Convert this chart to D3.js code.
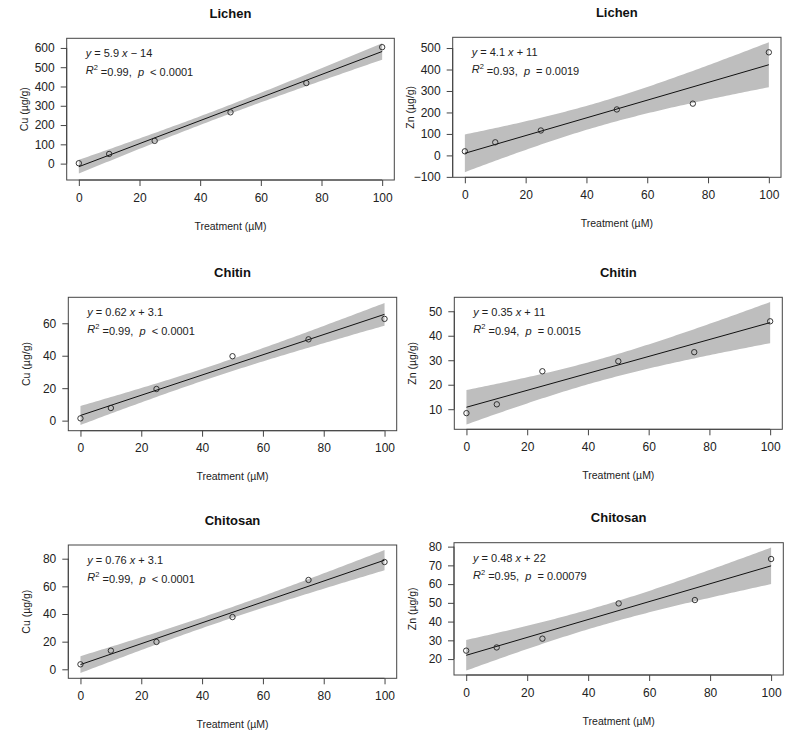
<!DOCTYPE html>
<html>
<head>
<meta charset="utf-8">
<script src="https://cdn.jsdelivr.net/npm/d3@7"></script>
<style>
  html, body { margin: 0; padding: 0; background: #fff; }
  svg { display: block; font-family: "Liberation Sans", Arial, sans-serif; }
  .ann { white-space: pre; }
</style>
</head>
<body>
<svg id="chart" width="798" height="737"></svg>
<script>
// ---- data ----
const treatment = [0, 10, 25, 50, 75, 100];
const lichenCu   = [2, 50, 118, 266, 418, 604];
const lichenZn   = [19, 61, 116, 214, 241, 480];
const chitinCu   = [1.4, 7.8, 19.5, 39.7, 50.1, 62.7];
const chitinZn   = [8.4, 12.0, 25.5, 29.6, 33.3, 45.9];
const chitosanCu = [3.6, 13.5, 19.8, 37.8, 64.6, 77.6];
const chitosanZn = [24.5, 26.2, 30.9, 49.7, 51.5, 73.4];

const titles  = ["Lichen", "Lichen", "Chitin", "Chitin", "Chitosan", "Chitosan"];
const yLabels = ["Cu (µg/g)", "Zn (µg/g)", "Cu (µg/g)", "Zn (µg/g)", "Cu (µg/g)", "Zn (µg/g)"];
const series  = [lichenCu, lichenZn, chitinCu, chitinZn, chitosanCu, chitosanZn];

const slopes     = ["5.9", "4.1", "0.62", "0.35", "0.76", "0.48"];
const intercepts = ["− 14", "+ 11", "+ 3.1", "+ 11", "+ 3.1", "+ 22"];
const r2Text     = ["0.99", "0.93", "0.99", "0.94", "0.99", "0.95"];
const pText      = ["< 0.0001", "= 0.0019", "< 0.0001", "= 0.0015", "< 0.0001", "= 0.00079"];

const xTicks = [0, 20, 40, 60, 80, 100];
const yTicks = [
  [0, 100, 200, 300, 400, 500, 600],
  [-100, 0, 100, 200, 300, 400, 500],
  [0, 20, 40, 60],
  [10, 20, 30, 40, 50],
  [0, 20, 40, 60, 80],
  [20, 30, 40, 50, 60, 70, 80]
];
const yDomains = [[-85, 650], [-102, 550], [-6.2, 76], [1.8, 55.7], [-6.5, 89.9], [11.5, 82.1]];
const xDomain = [-4, 104];

// ---- layout (plot boxes) ----
const boxes = [
  {l: 66.7, r: 394.3, t: 38.3, b: 180},
  {l: 452.7, r: 781, t: 37.3, b: 177.3},
  {l: 68.3, r: 396.7, t: 297.3, b: 430.7},
  {l: 454.3, r: 782.3, t: 297.3, b: 429.3},
  {l: 68.3, r: 396.7, t: 545, b: 678.3},
  {l: 454, r: 783.3, t: 542.7, b: 675}
];

const svg = d3.select("#chart");
const TQ = 2.776445; // t(0.975, df=4)
const txtCol = "#222";

function fit(xs, ys) {
  const n = xs.length;
  const mx = d3.mean(xs), my = d3.mean(ys);
  let sxx = 0, sxy = 0;
  xs.forEach((x, i) => { sxx += (x - mx) ** 2; sxy += (x - mx) * (ys[i] - my); });
  const b = sxy / sxx, a = my - b * mx;
  let sse = 0;
  xs.forEach((x, i) => { sse += (ys[i] - a - b * x) ** 2; });
  const s = Math.sqrt(sse / (n - 2));
  return {a, b, s, n, mx, sxx};
}

series.forEach((ys, k) => {
  const bx = boxes[k];
  const x = d3.scaleLinear().domain(xDomain).range([bx.l, bx.r]);
  const y = d3.scaleLinear().domain(yDomains[k]).range([bx.b, bx.t]);
  const g = svg.append("g");
  const f = fit(treatment, ys);

  // confidence band
  const grid = d3.range(0, 100.001, 1);
  const band = grid.map(xv => {
    const yh = f.a + f.b * xv;
    const se = f.s * Math.sqrt(1 / f.n + (xv - f.mx) ** 2 / f.sxx);
    return {x: xv, lo: yh - TQ * se, hi: yh + TQ * se};
  });
  g.append("path").datum(band)
    .attr("fill", "#bebebe")
    .attr("d", d3.area().x(d => x(d.x)).y0(d => y(d.lo)).y1(d => y(d.hi)));

  // regression line
  g.append("line")
    .attr("x1", x(0)).attr("y1", y(f.a))
    .attr("x2", x(100)).attr("y2", y(f.a + f.b * 100))
    .attr("stroke", "#111").attr("stroke-width", 1);

  // points
  g.selectAll("circle.pt").data(treatment).join("circle")
    .attr("class", "pt")
    .attr("cx", d => x(d)).attr("cy", (d, i) => y(ys[i]))
    .attr("r", 2.7).attr("fill", "none").attr("stroke", "#222").attr("stroke-width", 0.9);

  // box
  g.append("rect")
    .attr("x", bx.l).attr("y", bx.t)
    .attr("width", bx.r - bx.l).attr("height", bx.b - bx.t)
    .attr("fill", "none").attr("stroke", "#444").attr("stroke-width", 1);

  // x axis
  const xa = g.append("g").attr("transform", `translate(0,${bx.b})`)
    .call(d3.axisBottom(x).tickValues(xTicks).tickSize(6).tickPadding(7).tickSizeOuter(0));
  xa.select(".domain").attr("stroke", "#444")
    .attr("d", `M${x(0)},0H${x(100)}`);
  xa.selectAll(".tick line").attr("stroke", "#444");
  xa.selectAll("text").attr("font-size", 12).attr("fill", txtCol)
    .attr("font-family", "Liberation Sans, Arial, sans-serif");

  // y axis
  const yt = yTicks[k];
  const ya = g.append("g").attr("transform", `translate(${bx.l},0)`)
    .call(d3.axisLeft(y).tickValues(yt).tickSize(6).tickPadding(6).tickSizeOuter(0));
  ya.select(".domain").attr("stroke", "#444")
    .attr("d", `M0,${y(yt[0])}V${y(yt[yt.length - 1])}`);
  ya.selectAll(".tick line").attr("stroke", "#444");
  ya.selectAll("text").attr("font-size", 12).attr("fill", txtCol)
    .attr("font-family", "Liberation Sans, Arial, sans-serif");

  // title
  g.append("text")
    .attr("x", (bx.l + bx.r) / 2).attr("y", bx.t - 25)
    .attr("dy", "0.35em").attr("text-anchor", "middle")
    .attr("font-size", 13).attr("font-weight", "bold").attr("fill", "#111")
    .text(titles[k]);

  // x label
  g.append("text")
    .attr("x", (bx.l + bx.r) / 2).attr("y", bx.b + 46)
    .attr("dy", "0.35em").attr("text-anchor", "middle")
    .attr("font-size", 10.5).attr("fill", txtCol)
    .text("Treatment (µM)");

  // y label
  g.append("text")
    .attr("transform", `translate(${bx.l - 42},${(bx.t + bx.b) / 2}) rotate(-90)`)
    .attr("dy", "0.35em").attr("text-anchor", "middle")
    .attr("font-size", 10.5).attr("fill", txtCol)
    .text(yLabels[k]);

  // annotation
  const ax = bx.l + 19;
  const l1 = g.append("text").attr("class", "ann").attr("x", ax).attr("y", bx.t + 15).attr("dy", "0.35em")
    .attr("font-size", 11).attr("fill", txtCol);
  l1.append("tspan").attr("font-style", "italic").text("y");
  l1.append("tspan").text(" = " + slopes[k] + " ");
  l1.append("tspan").attr("font-style", "italic").text("x");
  l1.append("tspan").text(" " + intercepts[k]);

  const l2 = g.append("text").attr("class", "ann").attr("x", ax).attr("y", bx.t + 32).attr("dy", "0.35em")
    .attr("font-size", 11).attr("fill", txtCol);
  l2.append("tspan").attr("font-style", "italic").text("R");
  l2.append("tspan").attr("font-size", 7.5).attr("dy", "-0.5em").text("2");
  l2.append("tspan").attr("dy", "0.5em").text(" =" + r2Text[k] + ",  ");
  l2.append("tspan").attr("font-style", "italic").text("p");
  l2.append("tspan").text("  " + pText[k]);
});
</script>
</body>
</html>
